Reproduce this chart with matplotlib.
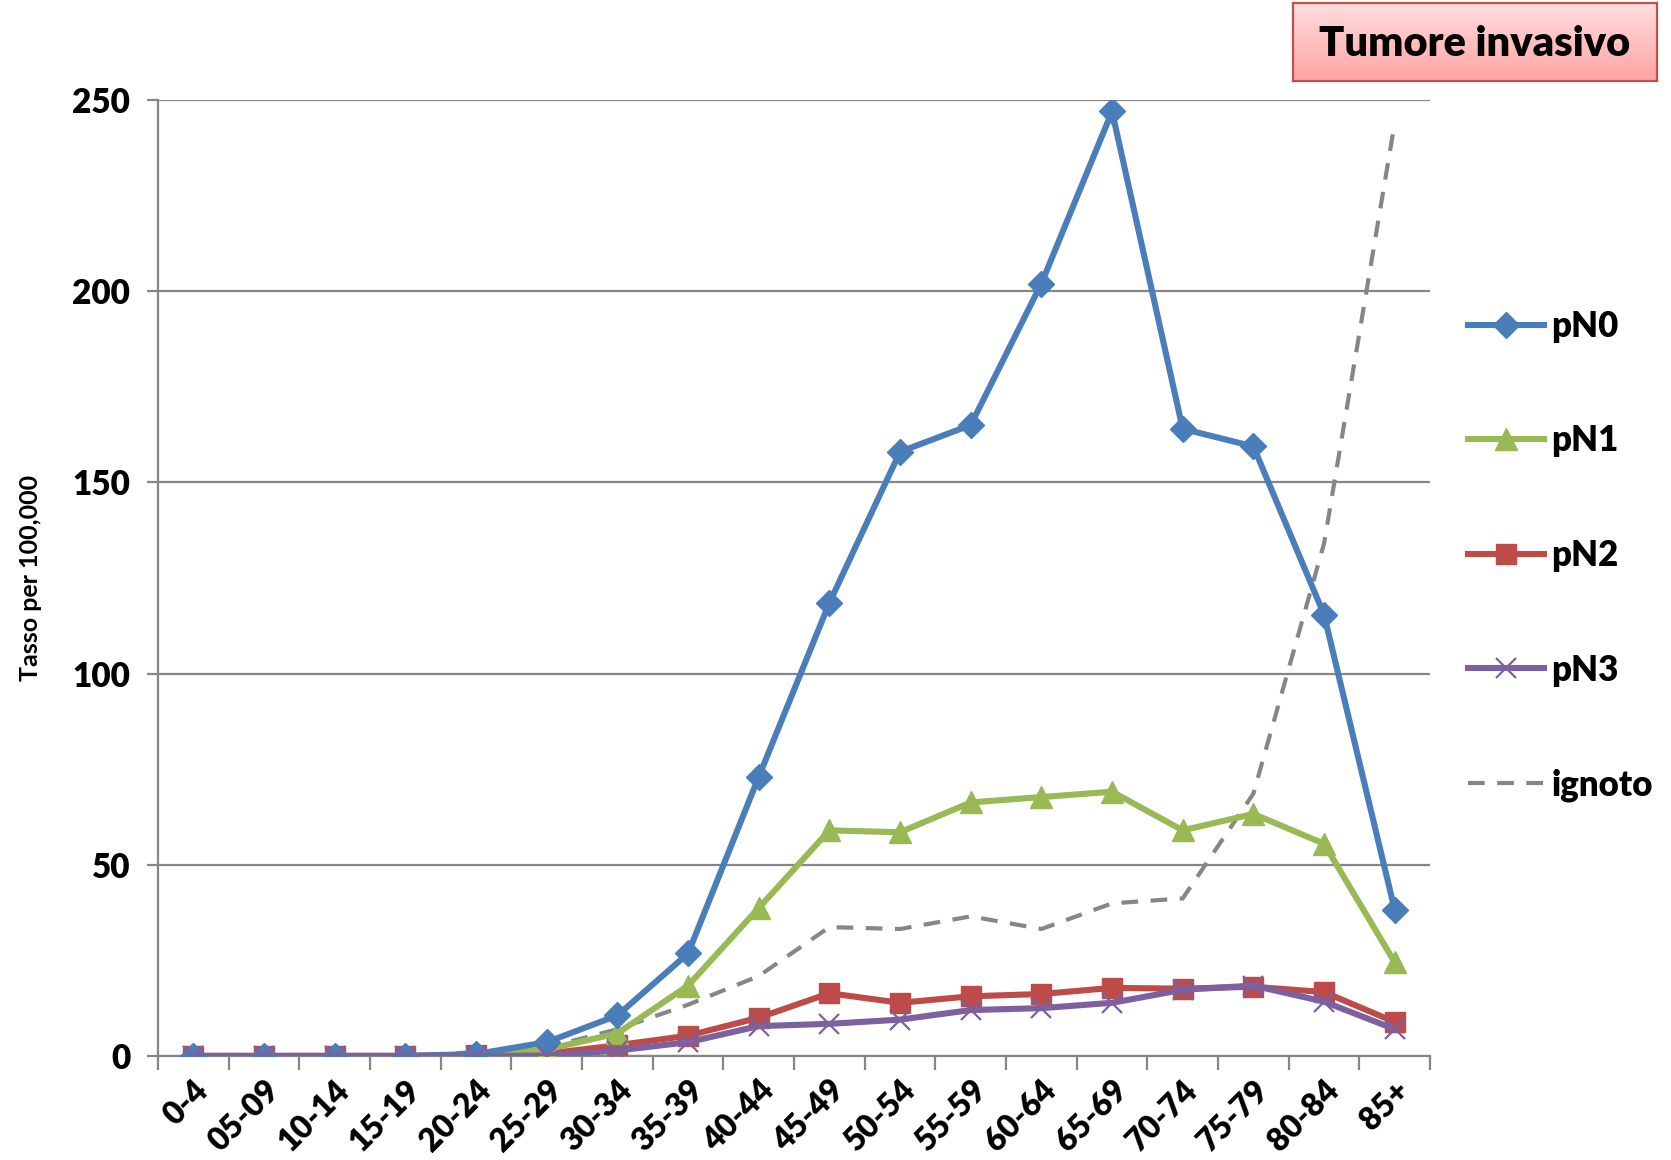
import matplotlib.pyplot as plt
import numpy as np

plt.rcParams['font.family'] = ['Lato', 'DejaVu Sans']
plt.rcParams['font.weight'] = 'bold'
plt.rcParams['axes.labelweight'] = 'bold'

ages = ['0-4', '05-09', '10-14', '15-19', '20-24', '25-29', '30-34', '35-39', '40-44',
        '45-49', '50-54', '55-59', '60-64', '65-69', '70-74', '75-79', '80-84', '85+']

pn0 = [0, 0, 0, 0, 0.5, 3.6, 10.6, 26.8, 73, 118.5, 158, 165, 202, 247, 164, 159.4, 115.4, 38.2]
pn1 = [0, 0, 0, 0, 0.3, 1.7, 5.9, 18.4, 38.7, 59, 58.5, 66.3, 67.7, 69.1, 59, 63.3, 55.5, 24.5]
pn2 = [0, 0, 0, 0, 0.2, 0.6, 2.8, 5.3, 10, 16.4, 13.9, 15.6, 16.2, 17.8, 17.6, 18.1, 16.7, 8.9]
pn3 = [0, 0, 0, 0, 0, 0.1, 1.4, 3.6, 7.8, 8.4, 9.5, 12, 12.5, 13.9, 17.3, 18.4, 14.2, 7]
ignoto = [0, 0, 0, 0, 1, 2.2, 7, 13.4, 20.9, 33.7, 33.2, 36.5, 33.2, 39.9, 41.2, 68.6, 134, 244]

fig = plt.figure(figsize=(16.71, 11.6), dpi=100, facecolor='white')
ax = fig.add_axes([0.0946, 0.0897, 0.7612, 0.8241])

x = np.arange(len(ages))
grid_c = '#868686'

ax.plot(x, pn0, color='#4A7EBB', lw=4.4, marker='D', ms=13, label='pN0', zorder=5)
ax.plot(x, pn1, color='#98B954', lw=4.4, marker='^', ms=16, label='pN1', zorder=4)
ax.plot(x, pn2, color='#BE4B48', lw=4.4, marker='s', ms=15, label='pN2', zorder=3)
ax.plot(x, pn3, color='#7D60A0', lw=4.4, marker='x', ms=15, mew=1.6, label='pN3', zorder=6)
ax.plot(x, ignoto, color='#868686', lw=3.0, ls=(0, (4, 3)), label='ignoto', zorder=2)

ax.set_xlim(-0.5, len(ages) - 0.5)
ax.set_ylim(0, 250)
ax.set_yticks([0, 50, 100, 150, 200, 250])
ax.yaxis.grid(True, color=grid_c, lw=1.6)
ax.set_axisbelow(True)

ax.set_xticks(x)
ax.set_xticklabels(ages, rotation=45, ha='right', rotation_mode='anchor',
                   fontsize=23, fontweight='heavy')
ax.set_xticks(np.arange(-0.5, len(ages)), minor=True)
ax.tick_params(axis='x', which='major', length=0, pad=14)
ax.tick_params(axis='x', which='minor', length=10, width=1.6, color=grid_c)
ax.tick_params(axis='y', length=8, width=1.6, color=grid_c, labelsize=24, pad=12)
for t in ax.get_yticklabels():
    t.set_fontweight('heavy')

for s in ['top', 'right']:
    ax.spines[s].set_visible(False)
for s in ['left', 'bottom']:
    ax.spines[s].set_color(grid_c)
    ax.spines[s].set_linewidth(1.6)

ax.set_ylabel('Tasso per 100,000', fontsize=18, labelpad=22)

leg = ax.legend(loc='upper left', bbox_to_anchor=(1.019, 0.795), frameon=False,
                prop={'size': 25, 'weight': 'heavy'},
                handlelength=2.2, handletextpad=0.2, labelspacing=2.35, borderaxespad=0)

# title box
bax = fig.add_axes([0.7738, 0.9302, 0.2178, 0.0672])
grad = np.linspace(0, 1, 100).reshape(-1, 1)
top = np.array([1.0, 0.87, 0.87])
bot = np.array([1.0, 0.64, 0.64])
img = top + (bot - top) * grad[:, :, None]
bax.imshow(img, aspect='auto', extent=[0, 1, 0, 1], origin='upper')
bax.set_xlim(0, 1)
bax.set_ylim(0, 1)
bax.set_xticks([])
bax.set_yticks([])
for s in bax.spines.values():
    s.set_color('#C0504D')
    s.set_linewidth(1.6)
bax.text(0.5, 0.47, 'Tumore invasivo', ha='center', va='center', fontsize=30, fontweight='heavy')

fig.savefig('out.png', dpi=100)
